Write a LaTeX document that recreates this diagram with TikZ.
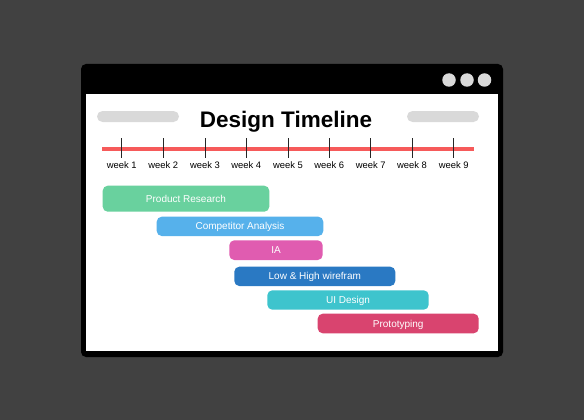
\documentclass[tikz,border=0pt]{standalone}
\usepackage{fontspec}
\setmainfont{Liberation Sans}
\begin{document}
\definecolor{bgdark}{HTML}{414141}
\definecolor{pillgray}{HTML}{D9D9D9}
\definecolor{axisred}{HTML}{F65A5A}
\definecolor{cgreen}{HTML}{69D19E}
\definecolor{cblue}{HTML}{56B1EB}
\definecolor{cpink}{HTML}{E05CB0}
\definecolor{cnavy}{HTML}{2A79C3}
\definecolor{cteal}{HTML}{3EC4CD}
\definecolor{crose}{HTML}{D9446F}
\begin{tikzpicture}[x=1pt,y=-1pt,
  taskbar/.style={rounded corners=5pt},
  tasklabel/.style={text=white,font=\fontsize{10}{12}\selectfont,inner sep=0pt,anchor=base},
  weeklabel/.style={font=\fontsize{9.4}{11}\selectfont,inner sep=0pt,anchor=base},
  tickmark/.style={line width=0.9pt,black!85},
  pill/.style={fill=pillgray,rounded corners=5.5pt},
  dot/.style={fill=pillgray,circle,inner sep=0pt,minimum size=13.5pt}]
  % canvas
  \fill[bgdark] (0,0) rectangle (584,420);
  \useasboundingbox (0,0) rectangle (584,420);
  % browser window
  \fill[black,rounded corners=5pt] (81,64) rectangle (503,357);
  \fill[white] (86,94.5) rectangle (498,351);
  \node[dot] (d1) at (449,80) {};
  \node[dot] (d2) at (467,80) {};
  \node[dot] (d3) at (484.5,80) {};
  % header
  \fill[pill] (97,111) rectangle (179,122);
  \fill[pill] (407,111) rectangle (479,122);
  \node[font=\bfseries\fontsize{22.5}{26}\selectfont,inner sep=0pt,anchor=base] (title) at (286,127) {Design Timeline};
  % time axis
  \draw[axisred,line width=3.6pt] (102,148.7) -- (474,148.7);
  \foreach \i/\x in {1/121.7,2/163.3,3/205,4/246.3,5/288,6/329.3,7/370.7,8/412,9/453.7}{
    \coordinate (t\i) at (\x,138);
    \coordinate (b\i) at (\x,157.7);
    \draw[tickmark] (t\i) -- (b\i);
    \node[weeklabel] (w\i) at (\x,168.5) {week \i};
  }
  % tasks
  \foreach \n/\c/\xa/\ya/\xb/\yb/\t in {
    r/cgreen/102.7/185.7/269.3/211.7/Product Research,
    c/cblue/156.7/216.7/323.3/236/Competitor Analysis,
    i/cpink/229.3/240.3/322.7/260/IA,
    w/cnavy/234.3/266.7/395.3/286/Low \& High wirefram,
    u/cteal/267.3/290.3/428.7/309.7/UI Design,
    p/crose/317.7/313.7/478.7/333.3/Prototyping}{
    \fill[\c,taskbar] (\xa,\ya) rectangle (\xb,\yb);
    \node[tasklabel] (task-\n) at ({(\xa+\xb)/2},{(\ya+\yb)/2+3.6}) {\t};
  }
\end{tikzpicture}
\end{document}
